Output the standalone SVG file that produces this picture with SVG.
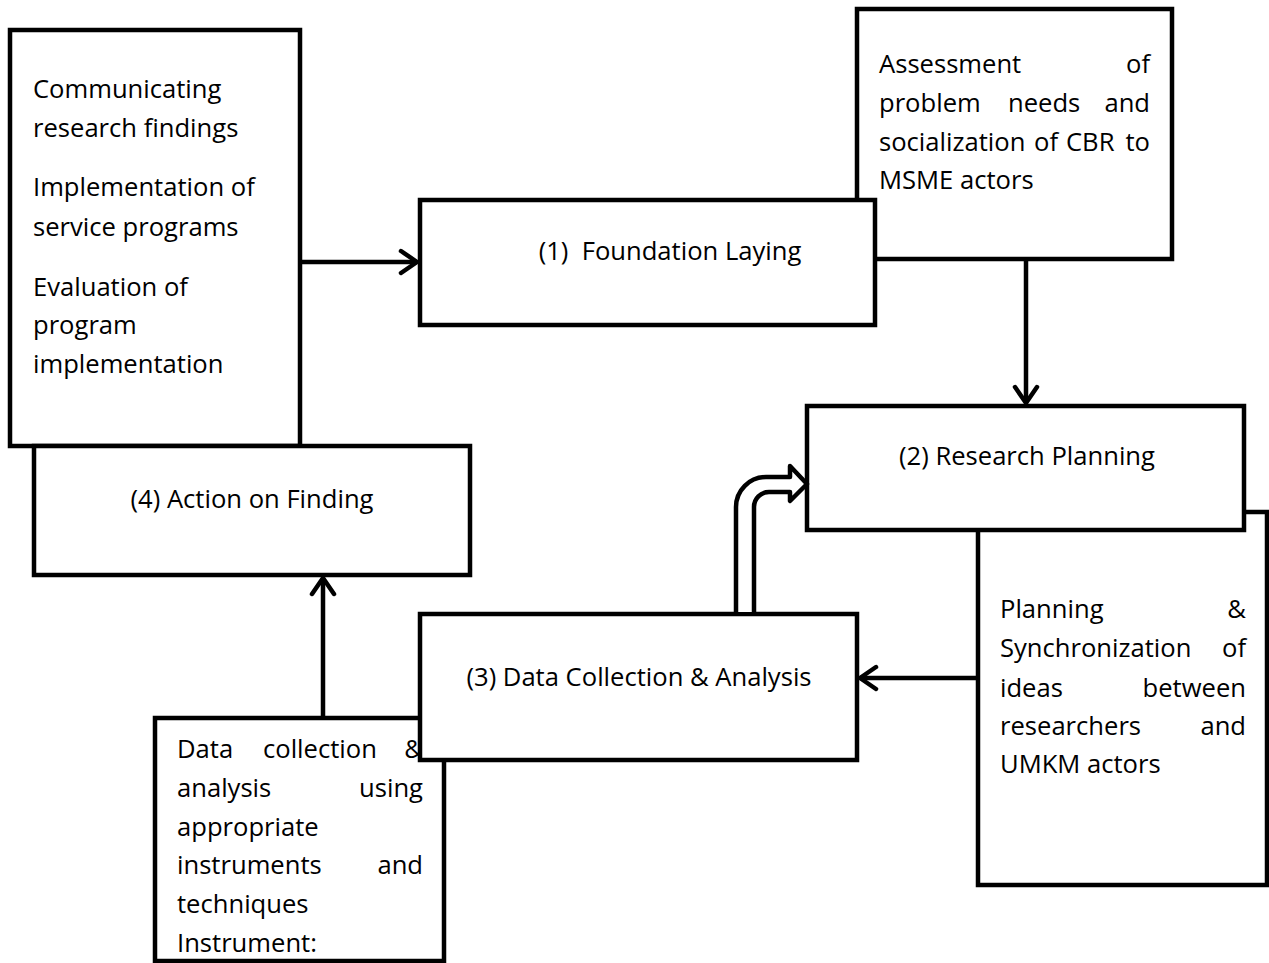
<svg xmlns="http://www.w3.org/2000/svg" width="1269" height="963" viewBox="0 0 1269 963">
<style>
.box{fill:#fff;stroke:#000;stroke-width:4.5}
.t{font-family:"Open Sans","Liberation Sans",sans-serif;font-size:25.6px;fill:#000}
.m{text-anchor:middle}
.e{text-anchor:end}
.c{fill:none;stroke:#000;stroke-width:4.5}
</style>
<defs>
<marker id="chev" viewBox="0 0 22 28" refX="19" refY="14" markerWidth="22" markerHeight="28" markerUnits="userSpaceOnUse" orient="auto">
<path d="M3,3 L19,14 L3,25" fill="none" stroke="#000" stroke-width="4.5" stroke-linecap="round" stroke-linejoin="round"/>
</marker>
</defs>
<g id="node-outputs">
<rect class="box" x="10" y="30" width="290" height="416"/>
<text class="t" x="33" y="98">Communicating</text>
<text class="t" x="33" y="137">research findings</text>
<text class="t" x="33" y="196">Implementation of</text>
<text class="t" x="33" y="236">service programs</text>
<text class="t" x="33" y="296">Evaluation of</text>
<text class="t" x="33" y="334">program</text>
<text class="t" x="33" y="373">implementation</text>
</g>
<g id="node-action">
<rect class="box" x="34" y="446" width="436" height="129"/>
<text class="t m" x="252" y="508">(4) Action on Finding</text>
</g>
<g id="node-assessment">
<rect class="box" x="857" y="9" width="315" height="250"/>
<text class="t" x="879" y="73">Assessment</text>
<text class="t e" x="1150" y="73">of</text>
<text class="t" x="879" y="112">problem</text>
<text class="t" x="1008" y="112">needs</text>
<text class="t e" x="1150" y="112">and</text>
<text class="t" x="879" y="151">socialization</text>
<text class="t" x="1034" y="151">of</text>
<text class="t" x="1066" y="151">CBR</text>
<text class="t e" x="1150" y="151">to</text>
<text class="t" x="879" y="189">MSME actors</text>
</g>
<g id="node-foundation">
<rect class="box" x="420" y="200" width="455" height="125"/>
<text class="t m" x="670" y="260" xml:space="preserve">(1)  Foundation Laying</text>
</g>
<g id="node-planning-detail">
<rect class="box" x="978" y="512" width="289" height="373"/>
<text class="t" x="1000" y="618">Planning</text>
<text class="t e" x="1246" y="618">&amp;</text>
<text class="t" x="1000" y="657">Synchronization</text>
<text class="t e" x="1246" y="657">of</text>
<text class="t" x="1000" y="697">ideas</text>
<text class="t e" x="1246" y="697">between</text>
<text class="t" x="1000" y="735">researchers</text>
<text class="t e" x="1246" y="735">and</text>
<text class="t" x="1000" y="773">UMKM actors</text>
</g>
<g id="node-research-planning">
<rect class="box" x="807" y="406" width="437" height="124"/>
<text class="t m" x="1027" y="465">(2) Research Planning</text>
</g>
<g id="node-data-detail">
<rect class="box" x="155" y="718" width="289" height="243"/>
<text class="t" x="177" y="758">Data</text>
<text class="t" x="263" y="758">collection</text>
<text class="t e" x="423" y="758">&amp;</text>
<text class="t" x="177" y="797">analysis</text>
<text class="t e" x="423" y="797">using</text>
<text class="t" x="177" y="836">appropriate</text>
<text class="t" x="177" y="874">instruments</text>
<text class="t e" x="423" y="874">and</text>
<text class="t" x="177" y="913">techniques</text>
<text class="t" x="177" y="952">Instrument:</text>
</g>
<g id="node-data-collection">
<rect class="box" x="420" y="614" width="437" height="146"/>
<text class="t m" x="639" y="686">(3) Data Collection &amp; Analysis</text>
</g>
<g id="connectors">
<line class="c" x1="302" y1="262" x2="417" y2="262" marker-end="url(#chev)"/>
<line class="c" x1="1026" y1="261" x2="1026" y2="403" marker-end="url(#chev)"/>
<line class="c" x1="976" y1="678" x2="860" y2="678" marker-end="url(#chev)"/>
<line class="c" x1="323" y1="716" x2="323" y2="578" marker-end="url(#chev)"/>
<path d="M736,612 L736,507 A30,30 0 0 1 766,477 L790,477 L790,466 L807,484 L790,501 L790,492 L769,492 A15,15 0 0 0 754,507 L754,612" fill="#fff" stroke="#000" stroke-width="4.5" stroke-linejoin="round"/>
</g>
</svg>
